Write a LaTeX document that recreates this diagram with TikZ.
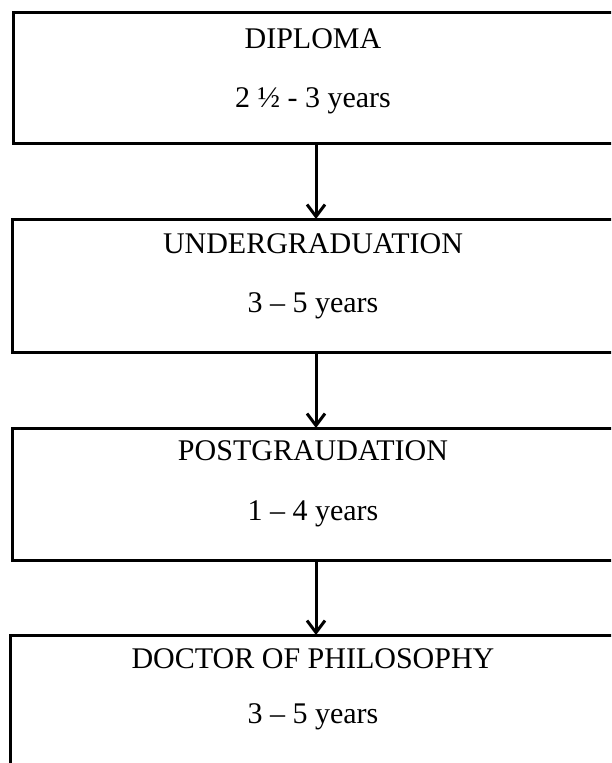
\documentclass[tikz,border=0pt]{standalone}
\usepackage{fontspec}
\setmainfont{Liberation Serif}
\usetikzlibrary{arrows.meta}
\begin{document}
\begin{tikzpicture}[x=1pt,y=1pt,
  box/.style={draw, line width=3pt, rectangle, anchor=north west, inner sep=0pt, outer sep=0pt},
  lbl/.style={anchor=base, font=\fontsize{30}{36}\selectfont, inner sep=0pt},
  arr/.style={line width=3pt, -{Straight Barb[length=12pt,width=18pt,line width=3pt]}}]
\useasboundingbox (0,0) rectangle (611,-763);
\clip (0,0) rectangle (611,-763);
\node[box, minimum width=606pt, minimum height=131pt] (b1) at (13,-12) {};
\node[box, minimum width=608pt, minimum height=133pt] (b2) at (12,-219) {};
\node[box, minimum width=608pt, minimum height=132pt] (b3) at (12,-428) {};
\node[box, minimum width=612pt, minimum height=220pt] (b4) at (10,-635) {};
\node[lbl] (t1) at ([xshift=-3pt,yshift=-36pt]b1.north) {DIPLOMA};
\node[lbl] (y1) at ([xshift=-3pt,yshift=-95pt]b1.north) {2 ½ - 3 years};
\node[lbl] (t2) at ([xshift=-3pt,yshift=-34pt]b2.north) {UNDERGRADUATION};
\node[lbl] (y2) at ([xshift=-3pt,yshift=-93pt]b2.north) {3 – 5 years};
\node[lbl] (t3) at ([xshift=-3pt,yshift=-32pt]b3.north) {POSTGRAUDATION};
\node[lbl] (y3) at ([xshift=-3pt,yshift=-92pt]b3.north) {1 – 4 years};
\node[lbl] (t4) at ([xshift=-3pt,yshift=-33pt]b4.north) {DOCTOR OF PHILOSOPHY};
\node[lbl] (y4) at ([xshift=-3pt,yshift=-88pt]b4.north) {3 – 5 years};
\draw[arr] (b1.south) -- (b2.north);
\draw[arr] (b2.south) -- (b3.north);
\draw[arr] (b3.south) -- (b4.north);
\end{tikzpicture}
\end{document}
